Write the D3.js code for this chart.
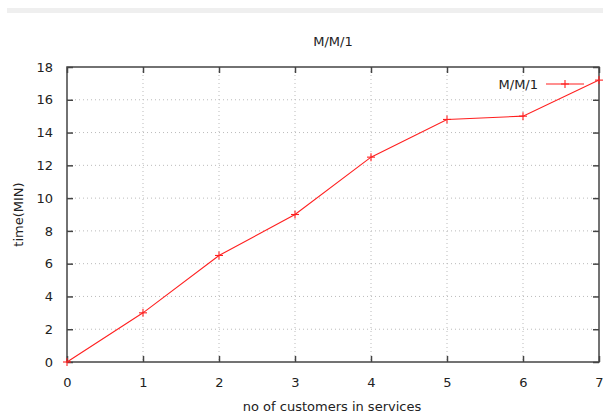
<!DOCTYPE html>
<html>
<head>
<meta charset="utf-8">
<script src="https://cdn.jsdelivr.net/npm/d3@7"></script>
<style>
  html, body { margin: 0; padding: 0; background: #fff; }
  svg { display: block; }
  text { font-family: "DejaVu Sans", sans-serif; fill: #222; }
</style>
</head>
<body>
<svg id="chart" width="603" height="414"></svg>
<script>
// customers in service vs. time
const customers = [0, 1, 2, 3, 4, 5, 6, 7];
const times = [0, 3, 6.5, 9, 12.5, 14.8, 15, 17.2];
const xTicks = [0, 1, 2, 3, 4, 5, 6, 7];
const yTicks = [0, 2, 4, 6, 8, 10, 12, 14, 16, 18];
const seriesName = "M/M/1";
const titleText = "M/M/1";
const xLabel = "no of customers in services";
const yLabel = "time(MIN)";

const svg = d3.select("#chart");
const plotLeft = 67, plotRight = 599, plotTop = 67, plotBottom = 362;
const fontSize = 13;

const x = d3.scaleLinear().domain([0, 7]).range([plotLeft, plotRight]);
const y = d3.scaleLinear().domain([0, 18]).range([plotBottom, plotTop]);

// thin toolbar strip at the top of the window
svg.append("rect").attr("x", 7).attr("y", 8).attr("width", 596).attr("height", 5).attr("fill", "#efefef");

// grid
const grid = svg.append("g").attr("stroke", "#bbb").attr("stroke-width", 1).attr("stroke-dasharray", "1,3");
xTicks.slice(1, -1).forEach(t => grid.append("line").attr("x1", x(t)).attr("x2", x(t)).attr("y1", plotTop).attr("y2", plotBottom));
yTicks.slice(1, -1).forEach(t => grid.append("line").attr("x1", plotLeft).attr("x2", plotRight).attr("y1", y(t)).attr("y2", y(t)));

// axes with inward ticks, mirrored on the opposite sides
const axisColor = "#444";
const bottomAxis = svg.append("g").attr("transform", `translate(0,${plotBottom})`)
  .call(d3.axisBottom(x).tickValues(xTicks).tickSize(-6).tickPadding(16).tickFormat(d3.format("d")));
const topAxis = svg.append("g").attr("transform", `translate(0,${plotTop})`)
  .call(d3.axisTop(x).tickValues(xTicks).tickSize(-6).tickFormat(""));
const leftAxis = svg.append("g").attr("transform", `translate(${plotLeft},0)`)
  .call(d3.axisLeft(y).tickValues(yTicks).tickSize(-6).tickPadding(14).tickFormat(d3.format("d")));
const rightAxis = svg.append("g").attr("transform", `translate(${plotRight},0)`)
  .call(d3.axisRight(y).tickValues(yTicks).tickSize(-6).tickFormat(""));
[bottomAxis, topAxis, leftAxis, rightAxis].forEach(g => {
  g.select(".domain").remove();
  g.selectAll(".tick line").attr("stroke", axisColor).attr("stroke-width", 1.5);
  g.selectAll(".tick text").attr("font-size", fontSize).attr("font-family", "DejaVu Sans, sans-serif").attr("fill", "#222");
});
svg.append("rect").attr("x", plotLeft).attr("y", plotTop).attr("width", plotRight - plotLeft).attr("height", plotBottom - plotTop)
  .attr("fill", "none").attr("stroke", axisColor).attr("stroke-width", 1.5);

// series
const red = "#ff2020";
const line = d3.line().x((d, i) => x(customers[i])).y(d => y(d));
svg.append("path").datum(times).attr("d", line).attr("fill", "none").attr("stroke", red).attr("stroke-width", 1.1);
const plus = (g, cx, cy, r) => {
  g.append("line").attr("x1", cx - r).attr("x2", cx + r).attr("y1", cy).attr("y2", cy);
  g.append("line").attr("x1", cx).attr("x2", cx).attr("y1", cy - r).attr("y2", cy + r);
};
const marks = svg.append("g").attr("stroke", red).attr("stroke-width", 1.1);
times.forEach((v, i) => plus(marks, x(customers[i]), y(v), 4));

// legend
const lg = svg.append("g");
lg.append("text").attr("x", 538).attr("y", 89).attr("text-anchor", "end").attr("font-size", fontSize).text(seriesName);
lg.append("line").attr("x1", 546).attr("x2", 584).attr("y1", 84).attr("y2", 84).attr("stroke", red).attr("stroke-width", 1.1);
const lm = lg.append("g").attr("stroke", red).attr("stroke-width", 1.1);
plus(lm, 565, 84, 4);

// titles
svg.append("text").attr("x", 333).attr("y", 46).attr("text-anchor", "middle").attr("font-size", fontSize).text(titleText);
svg.append("text").attr("x", 332).attr("y", 411).attr("text-anchor", "middle").attr("font-size", fontSize).text(xLabel);
svg.append("text").attr("transform", `translate(23,${(plotTop + plotBottom) / 2}) rotate(-90)`)
  .attr("text-anchor", "middle").attr("font-size", fontSize).text(yLabel);
</script>
</body>
</html>
